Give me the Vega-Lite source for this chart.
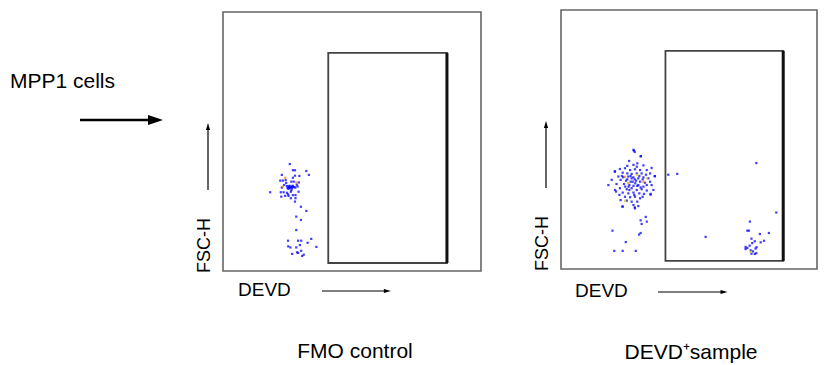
{
  "$schema": "https://vega.github.io/schema/vega-lite/v6.json",
  "width": 825,
  "height": 365,
  "autosize": {"type": "none"},
  "padding": 0,
  "background": "white",
  "config": {"view": {"stroke": null}, "axis": {"disable": true}, "font": "Liberation Sans"},
  "datasets": {
    "box": [{"DEVD_min": 0, "DEVD_max": 1000, "FSC_min": 0, "FSC_max": 1000}],
    "gate": [{"DEVD_min": 408, "DEVD_max": 868, "FSC_min": 31, "FSC_max": 842}],
    "fmo": [
      {"DEVD": 259, "FSC_H": 413, "d": "low"}, {"DEVD": 271, "FSC_H": 389, "d": "low"}, {"DEVD": 279, "FSC_H": 389, "d": "low"},
      {"DEVD": 323, "FSC_H": 386, "d": "low"}, {"DEVD": 228, "FSC_H": 371, "d": "low"}, {"DEVD": 279, "FSC_H": 368, "d": "low"},
      {"DEVD": 296, "FSC_H": 367, "d": "low"}, {"DEVD": 333, "FSC_H": 371, "d": "low"}, {"DEVD": 241, "FSC_H": 360, "d": "high"},
      {"DEVD": 271, "FSC_H": 360, "d": "low"}, {"DEVD": 222, "FSC_H": 349, "d": "low"}, {"DEVD": 232, "FSC_H": 349, "d": "low"},
      {"DEVD": 243, "FSC_H": 351, "d": "low"}, {"DEVD": 265, "FSC_H": 345, "d": "low"}, {"DEVD": 274, "FSC_H": 345, "d": "low"},
      {"DEVD": 284, "FSC_H": 342, "d": "high"}, {"DEVD": 294, "FSC_H": 342, "d": "low"}, {"DEVD": 237, "FSC_H": 332, "d": "low"},
      {"DEVD": 248, "FSC_H": 328, "d": "low"}, {"DEVD": 254, "FSC_H": 326, "d": "low"}, {"DEVD": 261, "FSC_H": 323, "d": "low"},
      {"DEVD": 271, "FSC_H": 326, "d": "low"}, {"DEVD": 280, "FSC_H": 322, "d": "low"}, {"DEVD": 254, "FSC_H": 317, "d": "low"},
      {"DEVD": 267, "FSC_H": 319, "d": "low"}, {"DEVD": 228, "FSC_H": 322, "d": "low"}, {"DEVD": 289, "FSC_H": 326, "d": "low"},
      {"DEVD": 183, "FSC_H": 304, "d": "low"}, {"DEVD": 224, "FSC_H": 304, "d": "low"}, {"DEVD": 235, "FSC_H": 304, "d": "low"},
      {"DEVD": 248, "FSC_H": 302, "d": "low"}, {"DEVD": 263, "FSC_H": 306, "d": "low"}, {"DEVD": 293, "FSC_H": 306, "d": "low"},
      {"DEVD": 281, "FSC_H": 293, "d": "low"}, {"DEVD": 226, "FSC_H": 287, "d": "low"}, {"DEVD": 241, "FSC_H": 290, "d": "low"},
      {"DEVD": 254, "FSC_H": 290, "d": "low"}, {"DEVD": 271, "FSC_H": 293, "d": "low"}, {"DEVD": 263, "FSC_H": 281, "d": "low"},
      {"DEVD": 281, "FSC_H": 281, "d": "low"}, {"DEVD": 279, "FSC_H": 268, "d": "low"}, {"DEVD": 252, "FSC_H": 296, "d": "low"},
      {"DEVD": 302, "FSC_H": 248, "d": "low"}, {"DEVD": 323, "FSC_H": 232, "d": "low"}, {"DEVD": 284, "FSC_H": 210, "d": "low"},
      {"DEVD": 302, "FSC_H": 197, "d": "low"}, {"DEVD": 284, "FSC_H": 158, "d": "low"}, {"DEVD": 342, "FSC_H": 124, "d": "low"},
      {"DEVD": 252, "FSC_H": 117, "d": "low"}, {"DEVD": 291, "FSC_H": 117, "d": "low"}, {"DEVD": 303, "FSC_H": 117, "d": "low"},
      {"DEVD": 328, "FSC_H": 109, "d": "low"}, {"DEVD": 298, "FSC_H": 100, "d": "low"}, {"DEVD": 362, "FSC_H": 93, "d": "low"},
      {"DEVD": 253, "FSC_H": 95, "d": "low"}, {"DEVD": 261, "FSC_H": 91, "d": "low"}, {"DEVD": 284, "FSC_H": 91, "d": "low"},
      {"DEVD": 303, "FSC_H": 78, "d": "low"}, {"DEVD": 268, "FSC_H": 66, "d": "low"}, {"DEVD": 287, "FSC_H": 72, "d": "low"},
      {"DEVD": 291, "FSC_H": 70, "d": "low"}, {"DEVD": 313, "FSC_H": 63, "d": "low"}, {"DEVD": 307, "FSC_H": 58, "d": "low"},
      {"DEVD": 256, "FSC_H": 324, "d": "low"}, {"DEVD": 259, "FSC_H": 321, "d": "low"}, {"DEVD": 263, "FSC_H": 326, "d": "low"},
      {"DEVD": 268, "FSC_H": 323, "d": "low"}, {"DEVD": 276, "FSC_H": 324, "d": "low"}, {"DEVD": 258, "FSC_H": 329, "d": "low"},
      {"DEVD": 270, "FSC_H": 329, "d": "low"}, {"DEVD": 232, "FSC_H": 326, "d": "high"}, {"DEVD": 250, "FSC_H": 320, "d": "low"},
      {"DEVD": 265, "FSC_H": 312, "d": "low"}, {"DEVD": 245, "FSC_H": 340, "d": "low"}, {"DEVD": 286, "FSC_H": 333, "d": "low"}
    ],
    "devd": [
      {"DEVD": 283, "FSC_H": 460, "d": "low"}, {"DEVD": 288, "FSC_H": 452, "d": "low"}, {"DEVD": 312, "FSC_H": 436, "d": "low"},
      {"DEVD": 266, "FSC_H": 417, "d": "low"}, {"DEVD": 283, "FSC_H": 402, "d": "low"}, {"DEVD": 298, "FSC_H": 408, "d": "low"},
      {"DEVD": 322, "FSC_H": 400, "d": "low"}, {"DEVD": 354, "FSC_H": 390, "d": "low"}, {"DEVD": 230, "FSC_H": 386, "d": "low"},
      {"DEVD": 250, "FSC_H": 389, "d": "low"}, {"DEVD": 270, "FSC_H": 382, "d": "low"}, {"DEVD": 289, "FSC_H": 385, "d": "low"},
      {"DEVD": 309, "FSC_H": 382, "d": "low"}, {"DEVD": 335, "FSC_H": 382, "d": "low"}, {"DEVD": 211, "FSC_H": 376, "d": "low"},
      {"DEVD": 241, "FSC_H": 372, "d": "low"}, {"DEVD": 259, "FSC_H": 369, "d": "low"}, {"DEVD": 276, "FSC_H": 367, "d": "low"},
      {"DEVD": 296, "FSC_H": 369, "d": "low"}, {"DEVD": 315, "FSC_H": 369, "d": "low"}, {"DEVD": 332, "FSC_H": 364, "d": "low"},
      {"DEVD": 367, "FSC_H": 359, "d": "low"}, {"DEVD": 419, "FSC_H": 364, "d": "low"}, {"DEVD": 454, "FSC_H": 367, "d": "low"},
      {"DEVD": 224, "FSC_H": 357, "d": "low"}, {"DEVD": 243, "FSC_H": 354, "d": "low"}, {"DEVD": 263, "FSC_H": 357, "d": "low"},
      {"DEVD": 283, "FSC_H": 354, "d": "low"}, {"DEVD": 302, "FSC_H": 350, "d": "low"}, {"DEVD": 322, "FSC_H": 354, "d": "low"},
      {"DEVD": 341, "FSC_H": 350, "d": "low"}, {"DEVD": 233, "FSC_H": 344, "d": "low"}, {"DEVD": 254, "FSC_H": 341, "d": "low"},
      {"DEVD": 272, "FSC_H": 337, "d": "low"}, {"DEVD": 293, "FSC_H": 341, "d": "low"}, {"DEVD": 309, "FSC_H": 337, "d": "low"},
      {"DEVD": 328, "FSC_H": 333, "d": "low"}, {"DEVD": 348, "FSC_H": 337, "d": "low"}, {"DEVD": 185, "FSC_H": 324, "d": "low"},
      {"DEVD": 217, "FSC_H": 328, "d": "low"}, {"DEVD": 246, "FSC_H": 328, "d": "low"}, {"DEVD": 267, "FSC_H": 324, "d": "low"},
      {"DEVD": 283, "FSC_H": 321, "d": "low"}, {"DEVD": 302, "FSC_H": 324, "d": "low"}, {"DEVD": 322, "FSC_H": 318, "d": "low"},
      {"DEVD": 354, "FSC_H": 324, "d": "low"}, {"DEVD": 230, "FSC_H": 312, "d": "low"}, {"DEVD": 257, "FSC_H": 308, "d": "low"},
      {"DEVD": 276, "FSC_H": 312, "d": "low"}, {"DEVD": 296, "FSC_H": 305, "d": "low"}, {"DEVD": 315, "FSC_H": 308, "d": "low"},
      {"DEVD": 335, "FSC_H": 303, "d": "low"}, {"DEVD": 215, "FSC_H": 299, "d": "low"}, {"DEVD": 241, "FSC_H": 295, "d": "low"},
      {"DEVD": 263, "FSC_H": 292, "d": "low"}, {"DEVD": 283, "FSC_H": 295, "d": "low"}, {"DEVD": 306, "FSC_H": 292, "d": "low"},
      {"DEVD": 324, "FSC_H": 290, "d": "low"}, {"DEVD": 350, "FSC_H": 290, "d": "low"}, {"DEVD": 250, "FSC_H": 279, "d": "low"},
      {"DEVD": 270, "FSC_H": 277, "d": "low"}, {"DEVD": 289, "FSC_H": 279, "d": "low"}, {"DEVD": 309, "FSC_H": 273, "d": "low"},
      {"DEVD": 233, "FSC_H": 266, "d": "low"}, {"DEVD": 257, "FSC_H": 264, "d": "low"}, {"DEVD": 276, "FSC_H": 260, "d": "low"},
      {"DEVD": 298, "FSC_H": 260, "d": "low"}, {"DEVD": 283, "FSC_H": 247, "d": "low"}, {"DEVD": 302, "FSC_H": 243, "d": "low"},
      {"DEVD": 241, "FSC_H": 241, "d": "low"}, {"DEVD": 289, "FSC_H": 234, "d": "low"},
      {"DEVD": 272, "FSC_H": 359, "d": "low"}, {"DEVD": 288, "FSC_H": 346, "d": "low"}, {"DEVD": 306, "FSC_H": 359, "d": "low"},
      {"DEVD": 264, "FSC_H": 318, "d": "low"}, {"DEVD": 290, "FSC_H": 331, "d": "low"}, {"DEVD": 311, "FSC_H": 315, "d": "low"},
      {"DEVD": 280, "FSC_H": 337, "d": "low"}, {"DEVD": 298, "FSC_H": 321, "d": "low"}, {"DEVD": 251, "FSC_H": 318, "d": "low"},
      {"DEVD": 335, "FSC_H": 324, "d": "low"}, {"DEVD": 276, "FSC_H": 350, "d": "low"}, {"DEVD": 319, "FSC_H": 346, "d": "low"},
      {"DEVD": 259, "FSC_H": 346, "d": "low"}, {"DEVD": 238, "FSC_H": 359, "d": "low"}, {"DEVD": 348, "FSC_H": 369, "d": "low"},
      {"DEVD": 267, "FSC_H": 305, "d": "low"}, {"DEVD": 286, "FSC_H": 286, "d": "low"}, {"DEVD": 228, "FSC_H": 286, "d": "low"},
      {"DEVD": 319, "FSC_H": 279, "d": "low"}, {"DEVD": 211, "FSC_H": 305, "d": "low"}, {"DEVD": 198, "FSC_H": 344, "d": "low"},
      {"DEVD": 361, "FSC_H": 305, "d": "low"}, {"DEVD": 296, "FSC_H": 395, "d": "low"}, {"DEVD": 259, "FSC_H": 398, "d": "low"},
      {"DEVD": 366, "FSC_H": 358, "d": "low"}, {"DEVD": 350, "FSC_H": 287, "d": "low"}, {"DEVD": 210, "FSC_H": 377, "d": "low"},
      {"DEVD": 285, "FSC_H": 457, "d": "low"}, {"DEVD": 311, "FSC_H": 435, "d": "low"}, {"DEVD": 288, "FSC_H": 238, "d": "low"},
      {"DEVD": 240, "FSC_H": 241, "d": "low"},
      {"DEVD": 250, "FSC_H": 356, "d": "high"}, {"DEVD": 298, "FSC_H": 363, "d": "mid"}, {"DEVD": 263, "FSC_H": 331, "d": "high"},
      {"DEVD": 335, "FSC_H": 350, "d": "mid"}, {"DEVD": 250, "FSC_H": 263, "d": "mid"}, {"DEVD": 322, "FSC_H": 337, "d": "high"},
      {"DEVD": 311, "FSC_H": 188, "d": "low"}, {"DEVD": 331, "FSC_H": 201, "d": "low"}, {"DEVD": 335, "FSC_H": 183, "d": "low"},
      {"DEVD": 315, "FSC_H": 174, "d": "low"}, {"DEVD": 201, "FSC_H": 148, "d": "low"}, {"DEVD": 305, "FSC_H": 133, "d": "low"},
      {"DEVD": 311, "FSC_H": 139, "d": "low"}, {"DEVD": 253, "FSC_H": 104, "d": "low"}, {"DEVD": 208, "FSC_H": 70, "d": "low"},
      {"DEVD": 241, "FSC_H": 70, "d": "low"}, {"DEVD": 292, "FSC_H": 70, "d": "low"},
      {"DEVD": 763, "FSC_H": 409, "d": "low"}, {"DEVD": 841, "FSC_H": 218, "d": "low"}, {"DEVD": 738, "FSC_H": 183, "d": "low"},
      {"DEVD": 728, "FSC_H": 148, "d": "low"}, {"DEVD": 734, "FSC_H": 148, "d": "low"}, {"DEVD": 777, "FSC_H": 135, "d": "low"},
      {"DEVD": 812, "FSC_H": 139, "d": "low"}, {"DEVD": 565, "FSC_H": 124, "d": "low"}, {"DEVD": 744, "FSC_H": 117, "d": "low"},
      {"DEVD": 757, "FSC_H": 107, "d": "low"}, {"DEVD": 747, "FSC_H": 100, "d": "low"}, {"DEVD": 780, "FSC_H": 103, "d": "low"},
      {"DEVD": 793, "FSC_H": 109, "d": "low"}, {"DEVD": 737, "FSC_H": 90, "d": "low"}, {"DEVD": 764, "FSC_H": 84, "d": "low"},
      {"DEVD": 721, "FSC_H": 85, "d": "low"}, {"DEVD": 728, "FSC_H": 81, "d": "low"}, {"DEVD": 760, "FSC_H": 79, "d": "low"},
      {"DEVD": 741, "FSC_H": 72, "d": "low"}, {"DEVD": 750, "FSC_H": 68, "d": "low"}, {"DEVD": 744, "FSC_H": 59, "d": "low"},
      {"DEVD": 757, "FSC_H": 58, "d": "low"}, {"DEVD": 763, "FSC_H": 61, "d": "low"}, {"DEVD": 721, "FSC_H": 77, "d": "low"},
      {"DEVD": 741, "FSC_H": 66, "d": "mid"}
    ]
  },
  "layer": [
    {
      "layer": [
        {
          "data": {"name": "box"},
          "mark": {"type": "rect", "filled": false, "stroke": "#666666", "strokeWidth": 1.6},
          "encoding": {
            "x": {"field": "DEVD_min", "type": "quantitative", "scale": {"domain": [-864.3, 2333.3], "nice": false, "zero": false}},
            "x2": {"field": "DEVD_max"},
            "y": {"field": "FSC_min", "type": "quantitative", "scale": {"domain": [-362.9, 1046.3], "nice": false, "zero": false}},
            "y2": {"field": "FSC_max"}
          }
        },
        {
          "data": {"name": "gate"},
          "mark": {"type": "rect", "filled": false, "stroke": "#444444", "strokeWidth": 1.8},
          "encoding": {
            "x": {"field": "DEVD_min", "type": "quantitative", "scale": {"domain": [-864.3, 2333.3], "nice": false, "zero": false}},
            "x2": {"field": "DEVD_max"},
            "y": {"field": "FSC_min", "type": "quantitative", "scale": {"domain": [-362.9, 1046.3], "nice": false, "zero": false}},
            "y2": {"field": "FSC_max"}
          }
        },
        {
          "data": {"name": "gate"},
          "mark": {"type": "rule", "stroke": "#111111", "strokeWidth": 3},
          "encoding": {
            "x": {"field": "DEVD_max", "type": "quantitative", "scale": {"domain": [-864.3, 2333.3], "nice": false, "zero": false}},
            "y": {"field": "FSC_min", "type": "quantitative", "scale": {"domain": [-362.9, 1046.3], "nice": false, "zero": false}},
            "y2": {"field": "FSC_max"}
          }
        },
        {
          "data": {"name": "fmo"},
          "mark": {"type": "square", "size": 5, "opacity": 0.75},
          "encoding": {
            "x": {"field": "DEVD", "type": "quantitative", "scale": {"domain": [-864.3, 2333.3], "nice": false, "zero": false}},
            "y": {"field": "FSC_H", "type": "quantitative", "scale": {"domain": [-362.9, 1046.3], "nice": false, "zero": false}},
            "color": {"field": "d", "type": "nominal", "scale": {"domain": ["low", "mid", "high"], "range": ["#0000ff", "#e0d000", "#ff7f00"]}, "legend": null}
          }
        },
        {
          "data": {"values": [{}]},
          "mark": {"type": "text", "text": "MPP1 cells", "align": "left", "baseline": "alphabetic", "fontSize": 21, "font": "Liberation Sans", "color": "black"},
          "encoding": {
            "x": {"datum": -825.6, "type": "quantitative", "scale": {"domain": [-864.3, 2333.3], "nice": false, "zero": false}},
            "y": {"datum": 706.6, "type": "quantitative", "scale": {"domain": [-362.9, 1046.3], "nice": false, "zero": false}}
          }
        },
        {
          "data": {"values": [{}]},
          "mark": {"type": "rule", "color": "black", "strokeWidth": 2.5},
          "encoding": {
            "x": {"datum": -554.3, "type": "quantitative", "scale": {"domain": [-864.3, 2333.3], "nice": false, "zero": false}},
            "x2": {"datum": -282.9},
            "y": {"datum": 583.0, "type": "quantitative", "scale": {"domain": [-362.9, 1046.3], "nice": false, "zero": false}}
          }
        },
        {
          "data": {"values": [{}]},
          "mark": {"type": "point", "shape": "M-1,-0.667L1,0L-1,0.667Z", "size": 225, "filled": true, "color": "black", "opacity": 1},
          "encoding": {
            "x": {"datum": -261.6, "type": "quantitative", "scale": {"domain": [-864.3, 2333.3], "nice": false, "zero": false}},
            "y": {"datum": 583.0, "type": "quantitative", "scale": {"domain": [-362.9, 1046.3], "nice": false, "zero": false}}
          }
        },
        {
          "data": {"values": [{}]},
          "mark": {"type": "text", "text": "FSC-H", "angle": 270, "align": "center", "baseline": "middle", "fontSize": 18, "font": "Liberation Sans", "color": "black"},
          "encoding": {
            "x": {"datum": -69.8, "type": "quantitative", "scale": {"domain": [-864.3, 2333.3], "nice": false, "zero": false}},
            "y": {"datum": 98.5, "type": "quantitative", "scale": {"domain": [-362.9, 1046.3], "nice": false, "zero": false}}
          }
        },
        {
          "data": {"values": [{}]},
          "mark": {"type": "rule", "color": "black", "strokeWidth": 1.2},
          "encoding": {
            "x": {"datum": -58.1, "type": "quantitative", "scale": {"domain": [-864.3, 2333.3], "nice": false, "zero": false}},
            "y": {"datum": 312.7, "type": "quantitative", "scale": {"domain": [-362.9, 1046.3], "nice": false, "zero": false}},
            "y2": {"datum": 546.0}
          }
        },
        {
          "data": {"values": [{}]},
          "mark": {"type": "point", "shape": "M0,-1L0.6,1L-0.6,1Z", "size": 49, "filled": true, "color": "black", "opacity": 1},
          "encoding": {
            "x": {"datum": -58.1, "type": "quantitative", "scale": {"domain": [-864.3, 2333.3], "nice": false, "zero": false}},
            "y": {"datum": 557.9, "type": "quantitative", "scale": {"domain": [-362.9, 1046.3], "nice": false, "zero": false}}
          }
        },
        {
          "data": {"values": [{}]},
          "mark": {"type": "text", "text": "DEVD", "align": "left", "baseline": "middle", "fontSize": 19, "font": "Liberation Sans", "color": "black"},
          "encoding": {
            "x": {"datum": 58.1, "type": "quantitative", "scale": {"domain": [-864.3, 2333.3], "nice": false, "zero": false}},
            "y": {"datum": -73.4, "type": "quantitative", "scale": {"domain": [-362.9, 1046.3], "nice": false, "zero": false}}
          }
        },
        {
          "data": {"values": [{}]},
          "mark": {"type": "rule", "color": "black", "strokeWidth": 1.2},
          "encoding": {
            "x": {"datum": 383.7, "type": "quantitative", "scale": {"domain": [-864.3, 2333.3], "nice": false, "zero": false}},
            "x2": {"datum": 630.0},
            "y": {"datum": -77.2, "type": "quantitative", "scale": {"domain": [-362.9, 1046.3], "nice": false, "zero": false}}
          }
        },
        {
          "data": {"values": [{}]},
          "mark": {"type": "point", "shape": "M1,0L-1,-0.6L-1,0.6Z", "size": 49, "filled": true, "color": "black", "opacity": 1},
          "encoding": {
            "x": {"datum": 637.0, "type": "quantitative", "scale": {"domain": [-864.3, 2333.3], "nice": false, "zero": false}},
            "y": {"datum": -77.2, "type": "quantitative", "scale": {"domain": [-362.9, 1046.3], "nice": false, "zero": false}}
          }
        },
        {
          "data": {"values": [{}]},
          "mark": {"type": "text", "text": "FMO control", "align": "center", "baseline": "middle", "fontSize": 21, "font": "Liberation Sans", "color": "black"},
          "encoding": {
            "x": {"datum": 511.6, "type": "quantitative", "scale": {"domain": [-864.3, 2333.3], "nice": false, "zero": false}},
            "y": {"datum": -312.7, "type": "quantitative", "scale": {"domain": [-362.9, 1046.3], "nice": false, "zero": false}}
          }
        }
      ]
    },
    {
      "layer": [
        {
          "data": {"name": "box"},
          "mark": {"type": "rect", "filled": false, "stroke": "#666666", "strokeWidth": 1.6},
          "encoding": {
            "x": {"field": "DEVD_min", "type": "quantitative", "scale": {"domain": [-2191.4, 1031.25], "nice": false, "zero": false}},
            "x2": {"field": "DEVD_max"},
            "y": {"field": "FSC_min", "type": "quantitative", "scale": {"domain": [-370.7, 1038.6], "nice": false, "zero": false}},
            "y2": {"field": "FSC_max"}
          }
        },
        {
          "data": {"name": "gate"},
          "mark": {"type": "rect", "filled": false, "stroke": "#444444", "strokeWidth": 1.8},
          "encoding": {
            "x": {"field": "DEVD_min", "type": "quantitative", "scale": {"domain": [-2191.4, 1031.25], "nice": false, "zero": false}},
            "x2": {"field": "DEVD_max"},
            "y": {"field": "FSC_min", "type": "quantitative", "scale": {"domain": [-370.7, 1038.6], "nice": false, "zero": false}},
            "y2": {"field": "FSC_max"}
          }
        },
        {
          "data": {"name": "gate"},
          "mark": {"type": "rule", "stroke": "#111111", "strokeWidth": 3},
          "encoding": {
            "x": {"field": "DEVD_max", "type": "quantitative", "scale": {"domain": [-2191.4, 1031.25], "nice": false, "zero": false}},
            "y": {"field": "FSC_min", "type": "quantitative", "scale": {"domain": [-370.7, 1038.6], "nice": false, "zero": false}},
            "y2": {"field": "FSC_max"}
          }
        },
        {
          "data": {"name": "devd"},
          "mark": {"type": "square", "size": 5, "opacity": 0.75},
          "encoding": {
            "x": {"field": "DEVD", "type": "quantitative", "scale": {"domain": [-2191.4, 1031.25], "nice": false, "zero": false}},
            "y": {"field": "FSC_H", "type": "quantitative", "scale": {"domain": [-370.7, 1038.6], "nice": false, "zero": false}},
            "color": {"field": "d", "type": "nominal", "scale": {"domain": ["low", "mid", "high"], "range": ["#0000ff", "#e0d000", "#ff7f00"]}, "legend": null}
          }
        },
        {
          "data": {"values": [{}]},
          "mark": {"type": "text", "text": "FSC-H", "angle": 270, "align": "center", "baseline": "middle", "fontSize": 18, "font": "Liberation Sans", "color": "black"},
          "encoding": {
            "x": {"datum": -70.3, "type": "quantitative", "scale": {"domain": [-2191.4, 1031.25], "nice": false, "zero": false}},
            "y": {"datum": 98.5, "type": "quantitative", "scale": {"domain": [-370.7, 1038.6], "nice": false, "zero": false}}
          }
        },
        {
          "data": {"values": [{}]},
          "mark": {"type": "rule", "color": "black", "strokeWidth": 1.2},
          "encoding": {
            "x": {"datum": -58.6, "type": "quantitative", "scale": {"domain": [-2191.4, 1031.25], "nice": false, "zero": false}},
            "y": {"datum": 312.7, "type": "quantitative", "scale": {"domain": [-370.7, 1038.6], "nice": false, "zero": false}},
            "y2": {"datum": 546.0}
          }
        },
        {
          "data": {"values": [{}]},
          "mark": {"type": "point", "shape": "M0,-1L0.6,1L-0.6,1Z", "size": 49, "filled": true, "color": "black", "opacity": 1},
          "encoding": {
            "x": {"datum": -58.6, "type": "quantitative", "scale": {"domain": [-2191.4, 1031.25], "nice": false, "zero": false}},
            "y": {"datum": 557.9, "type": "quantitative", "scale": {"domain": [-370.7, 1038.6], "nice": false, "zero": false}}
          }
        },
        {
          "data": {"values": [{}]},
          "mark": {"type": "text", "text": "DEVD", "align": "left", "baseline": "middle", "fontSize": 19, "font": "Liberation Sans", "color": "black"},
          "encoding": {
            "x": {"datum": 54.7, "type": "quantitative", "scale": {"domain": [-2191.4, 1031.25], "nice": false, "zero": false}},
            "y": {"datum": -84.9, "type": "quantitative", "scale": {"domain": [-370.7, 1038.6], "nice": false, "zero": false}}
          }
        },
        {
          "data": {"values": [{}]},
          "mark": {"type": "rule", "color": "black", "strokeWidth": 1.2},
          "encoding": {
            "x": {"datum": 378.9, "type": "quantitative", "scale": {"domain": [-2191.4, 1031.25], "nice": false, "zero": false}},
            "x2": {"datum": 629.0},
            "y": {"datum": -88.8, "type": "quantitative", "scale": {"domain": [-370.7, 1038.6], "nice": false, "zero": false}}
          }
        },
        {
          "data": {"values": [{}]},
          "mark": {"type": "point", "shape": "M1,0L-1,-0.6L-1,0.6Z", "size": 49, "filled": true, "color": "black", "opacity": 1},
          "encoding": {
            "x": {"datum": 636.7, "type": "quantitative", "scale": {"domain": [-2191.4, 1031.25], "nice": false, "zero": false}},
            "y": {"datum": -88.8, "type": "quantitative", "scale": {"domain": [-370.7, 1038.6], "nice": false, "zero": false}}
          }
        },
        {
          "data": {"values": [{}]},
          "mark": {"type": "text", "text": "DEVD⁺sample", "align": "center", "baseline": "middle", "fontSize": 21, "font": "Liberation Sans", "color": "black"},
          "encoding": {
            "x": {"datum": 507.8, "type": "quantitative", "scale": {"domain": [-2191.4, 1031.25], "nice": false, "zero": false}},
            "y": {"datum": -324.3, "type": "quantitative", "scale": {"domain": [-370.7, 1038.6], "nice": false, "zero": false}}
          }
        }
      ]
    }
  ],
  "resolve": {"scale": {"x": "independent", "y": "independent"}}
}
